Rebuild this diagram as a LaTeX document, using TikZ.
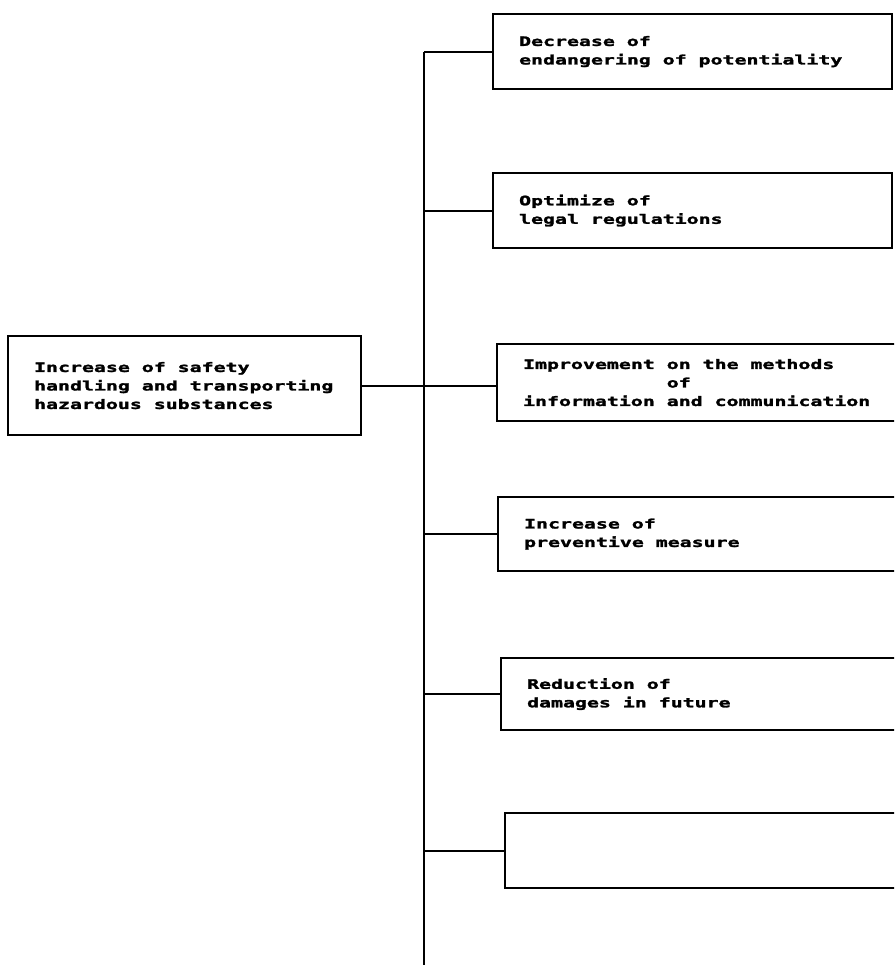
\documentclass[tikz,border=0pt]{standalone}
\usepackage{fontspec}
\newfontfamily\dotfont[FakeStretch=1.53,
  BoldFeatures={FakeBold=2}]{DejaVu Sans Mono}
\newcommand\boxfont{\dotfont\bfseries\fontsize{13}{18.5}\selectfont
  \spaceskip 11.95pt\relax}
\usetikzlibrary{positioning,calc}
\tikzset{
  box/.style={draw, line width=2.2pt, anchor=north west, align=flush left,
    inner xsep=26pt, inner ysep=2pt, font=\boxfont},
  link/.style={line width=1.9pt}
}

\begin{document}
\begin{tikzpicture}[x=1pt,y=-1pt]
  \useasboundingbox (0,0) rectangle (894,966);
  \clip (0,0) rectangle (894,966);

  \node[box, text width=301pt, minimum height=99pt] (aim) at (7,335)
    {Increase of safety\\handling and transporting\\hazardous substances};

  \node[box, text width=347pt, minimum height=75pt] (potential) at (492,13)
    {Decrease of\\endangering of potentiality};
  \node[box, text width=347pt, minimum height=75pt] (legal) at (492,172)
    {Optimize of\\legal regulations};
  \node[box, text width=380pt, minimum height=77pt] (inform) at (496,343)
    {Improvement on the methods\\\phantom{Improvement }of\\information and communication};
  \node[box, text width=380pt, minimum height=74pt] (prevent) at (497,496)
    {Increase of\\preventive measure};
  \node[box, text width=380pt, minimum height=72pt] (damage) at (500,657)
    {Reduction of\\damages in future};
  \node[box, text width=380pt, minimum height=75pt] (blank) at (504,812) {};

  % trunk and branches
  \coordinate (foot) at (424,965);
  \draw[line width=2.4pt] (potential.west -| foot) -- (foot);
  \draw[link] (aim.east) -- (aim.east -| inform.west);
  \foreach \n in {potential,legal,prevent,damage,blank}
    \draw[link] (\n.west -| foot) -- (\n.west);
\end{tikzpicture}
\end{document}
